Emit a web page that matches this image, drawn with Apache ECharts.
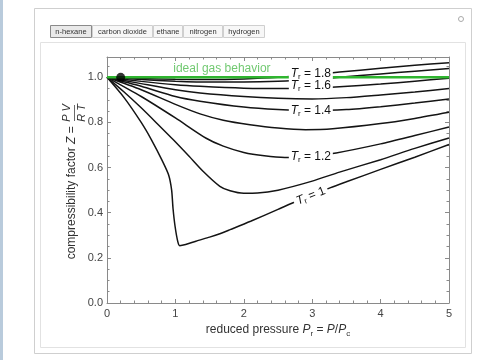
<!DOCTYPE html>
<html><head><meta charset="utf-8">
<script src="https://cdn.jsdelivr.net/npm/echarts@6/dist/echarts.min.js"></script>
<style>html,body{margin:0;padding:0;background:#fff}#c{width:480px;height:360px}</style>
</head><body><div id="c"></div>
<script>
// ---- data ----
const trValues = [1.0, 1.1, 1.2, 1.3, 1.4, 1.5, 1.6, 1.7, 1.8];
const zTr10 = [[0,1],[0.25,0.91],[0.5,0.80],[0.65,0.723],[0.8,0.635],[0.9,0.568],[0.945,0.50],[0.965,0.42],[0.995,0.34],[1.035,0.272],[1.063,0.254],[1.15,0.259],[1.3,0.274],[1.5,0.292],[1.65,0.307],[1.8,0.325],[2.1,0.362],[2.5,0.415],[2.72,0.444],[3.0,0.478],[3.26,0.51],[3.5,0.537],[4.0,0.592],[4.5,0.646],[5.0,0.702]];
const zTr11 = [[0,1],[0.25,0.935],[0.5,0.865],[0.75,0.79],[0.97,0.723],[1.2,0.65],[1.4,0.585],[1.65,0.517],[1.8,0.497],[2.0,0.486],[2.2,0.487],[2.5,0.50],[3.0,0.54],[3.4,0.58],[4.0,0.635],[4.5,0.685],[5.0,0.731]];
const zTr12 = [[0,1],[0.5,0.915],[1.0,0.82],[1.45,0.73],[1.7,0.695],[2.0,0.667],[2.3,0.652],[2.6,0.645],[2.9,0.648],[3.35,0.665],[4.0,0.705],[4.5,0.742],[5.0,0.78]];
const zTr13 = [[0,1],[0.5,0.945],[1.0,0.88],[1.36,0.838],[1.7,0.81],[2.09,0.79],[2.5,0.775],[2.9,0.768],[3.3,0.772],[4.0,0.795],[4.5,0.818],[5.0,0.845]];
const zTr14 = [[0,1],[0.5,0.96],[1.0,0.915],[1.36,0.894],[2.0,0.868],[2.5,0.857],[3.0,0.852],[3.5,0.857],[4.0,0.87],[4.5,0.886],[5.0,0.904]];
const zTr15 = [[0,1],[0.5,0.972],[1.0,0.945],[1.36,0.931],[2.0,0.915],[2.5,0.907],[3.0,0.904],[3.5,0.91],[4.0,0.922],[4.5,0.935],[5.0,0.95]];
const zTr16 = [[0,1],[0.5,0.982],[1.0,0.967],[1.36,0.96],[2.0,0.952],[2.6,0.95],[3.0,0.952],[3.4,0.958],[4.0,0.97],[4.5,0.983],[5.0,0.996]];
const zTr17 = [[0,1],[0.5,0.99],[1.0,0.983],[1.5,0.979],[2.0,0.979],[2.5,0.982],[3.0,0.99],[3.4,1.0],[4.0,1.015],[4.5,1.027],[5.0,1.039]];
const zTr18 = [[0,1],[0.5,0.995],[1.0,0.991],[1.5,0.99],[2.0,0.993],[2.5,1.0],[3.0,1.012],[3.4,1.023],[4.0,1.04],[4.5,1.053],[5.0,1.065]];
const curves = [zTr10, zTr11, zTr12, zTr13, zTr14, zTr15, zTr16, zTr17, zTr18];
const idealGas = [[0,1],[5,1]];
const markerPoint = [[0.2, 1.0]];
const curveLabelText = ['1.8', '1.6', '1.4', '1.2', '1'];
const curveLabelAt = [[2.98,1.016],[2.98,0.962],[2.98,0.852],[2.98,0.65],[2.98,0.474]];
const idealLabelAt = [[1.68,1.038]];
const xTickLabels = [0,1,2,3,4,5];
const yTickLabels = ['0.0','0.2','0.4','0.6','0.8','1.0'];
const tabs = ['n-hexane','carbon dioxide','ethane','nitrogen','hydrogen'];

// ---- chart ----
const FONT = "'Liberation Sans', Arial, sans-serif";
const chart = echarts.init(document.getElementById('c'), null, {renderer:'canvas'});
const labelRotate = [0,0,0,0,22];
const labelBox = [[44,13],[44,13],[44,13],[44,13],[36,13]];
const axisCol = '#8a8a8a';
const txtCol = '#444';

function frameAxis(pos, isX, showLabels) {
  return {
    type: 'value', position: pos, min: 0,
    max: isX ? 5 : 1.09, interval: isX ? 1 : 0.2,
    axisLine: {show: true, onZero: false, lineStyle: {color: axisCol, width: 1}},
    axisTick: {show: true, inside: true, length: 4, lineStyle: {color: axisCol}},
    minorTick: {show: true, splitNumber: isX ? 5 : 4, length: 2.5, lineStyle: {color: axisCol}},
    splitLine: {show: false}, minorSplitLine: {show: false},
    axisLabel: {show: showLabels, color: txtCol, fontFamily: FONT, fontSize: 11,
      margin: isX ? 5 : 4, showMaxLabel: isX,
      formatter: isX ? (v => String(xTickLabels[Math.round(v)])) : (v => yTickLabels[Math.round(v/0.2)] || '')}
  };
}
const xBottom = frameAxis('bottom', true, true);
xBottom.name = '{a|reduced pressure }{i|P}{s|r}{a| = }{i|P}{a|/}{i|P}{s|c}';
xBottom.nameLocation = 'middle';
xBottom.nameGap = 18;
xBottom.nameTextStyle = {rich: {
  a: {fontFamily: FONT, fontSize: 12, color: '#333', lineHeight: 15, verticalAlign: 'middle'},
  i: {fontFamily: FONT, fontSize: 12, fontStyle: 'italic', color: '#333', lineHeight: 15, verticalAlign: 'middle'},
  s: {fontFamily: FONT, fontSize: 8, color: '#333', lineHeight: 8, verticalAlign: 'bottom'}
}};

const lineSeries = curves.map((d, i) => ({
  name: 'Tr=' + trValues[i], type: 'line', data: d, xAxisIndex: 0, yAxisIndex: 0,
  showSymbol: false, symbol: 'none', smooth: 0.25,
  lineStyle: {color: '#141414', width: 1.5}, z: 3, silent: true
}));

const richLbl = {
  t: {fontFamily: FONT, fontSize: 12, fontStyle: 'italic', color: '#111', lineHeight: 14, verticalAlign: 'middle'},
  s: {fontFamily: FONT, fontSize: 8, color: '#111', lineHeight: 8, verticalAlign: 'bottom'},
  n: {fontFamily: FONT, fontSize: 12, color: '#111', lineHeight: 14, verticalAlign: 'middle'}
};

const option = {
  animation: false,
  backgroundColor: '#fff',
  grid: {left: 107, right: 31, top: 57, bottom: 57, containLabel: false},
  xAxis: [xBottom, frameAxis('top', true, false)],
  yAxis: [frameAxis('left', false, true), frameAxis('right', false, false)],
  series: [
    ...lineSeries,
    {type: 'line', data: idealGas, showSymbol: false, symbol: 'none',
     lineStyle: {color: '#2fb52f', width: 2.5}, z: 4, silent: true},
    {type: 'scatter', data: markerPoint, symbol: 'circle', symbolSize: 9,
     itemStyle: {color: '#000'}, z: 6, silent: true},
    {type: 'scatter', z: 8, silent: true, symbol: 'rect',
     itemStyle: {color: '#fff', opacity: 1},
     data: curveLabelAt.map((p, i) => ({value: p, symbolSize: labelBox[i], symbolRotate: labelRotate[i],
        label: {rotate: labelRotate[i]}})),
     label: {show: true, position: 'inside',
       formatter: (p) => '{t|T}{s|r}{n| = ' + curveLabelText[p.dataIndex] + '}', rich: richLbl}},
    {type: 'scatter', symbolSize: 0, z: 8, silent: true, data: idealLabelAt,
     label: {show: true, position: 'inside', formatter: 'ideal gas behavior',
       color: '#4dbb4d', fontFamily: FONT, fontSize: 12}}
  ],
  graphic: [
    {type: 'rect', z: -10, shape: {x: 0, y: 0, width: 3, height: 360}, style: {fill: '#b9cbdc'}},
    {type: 'rect', z: -10, shape: {x: 34.5, y: 8.5, width: 437, height: 345}, style: {fill: 'none', stroke: '#cfcfcf'}},
    {type: 'circle', z: -10, shape: {cx: 461, cy: 19, r: 2.5}, style: {fill: 'none', stroke: '#aaa'}},
    {type: 'rect', z: -10, shape: {x: 40.5, y: 42.5, width: 425, height: 305}, style: {fill: 'none', stroke: '#e2e2e2'}},
    ...tabs.map((t, i) => {
      const xs = [50, 92, 153, 183, 223], ws = [41, 60, 29, 39, 41];
      return {type: 'group', z: -5, children: [
        {type: 'rect', shape: {x: xs[i] + 0.5, y: 25.5, width: ws[i], height: 12},
         style: {fill: i === 0 ? '#e9e9e9' : '#f7f7f7', stroke: i === 0 ? '#8a8a8a' : '#cfcfcf'}},
        {type: 'text', x: xs[i] + ws[i] / 2 + 0.5, y: 31.5,
         style: {text: t, fontFamily: FONT, fontSize: 7.5, fill: '#333', align: 'center', verticalAlign: 'middle'}}
      ]};
    }),
    {type: 'group', x: 72, y: 190, rotation: Math.PI / 2, children: [
      {type: 'text', x: 67, y: 0, style: {
        text: '{a|compressibility factor }{i|Z}{a| = }', align: 'right', verticalAlign: 'middle',
        rich: {a: {fontFamily: FONT, fontSize: 12, fill: '#333'},
               i: {fontFamily: FONT, fontSize: 12, fontStyle: 'italic', fill: '#333'}}}},
      {type: 'text', x: 77, y: -5, style: {text: 'P V', fontFamily: FONT, fontSize: 11, fontStyle: 'italic',
        fill: '#333', align: 'center', verticalAlign: 'middle'}},
      {type: 'line', shape: {x1: 69, y1: 2.5, x2: 85, y2: 2.5}, style: {stroke: '#444', lineWidth: 0.8}},
      {type: 'text', x: 77, y: 10, style: {text: 'R T', fontFamily: FONT, fontSize: 11, fontStyle: 'italic',
        fill: '#333', align: 'center', verticalAlign: 'middle'}}
    ]}
  ]
};
chart.setOption(option);
</script></body></html>
